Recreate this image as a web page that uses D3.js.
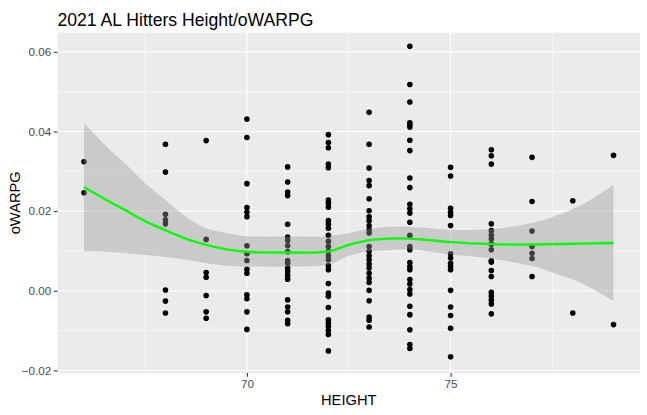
<!DOCTYPE html>
<html>
<head>
<meta charset="utf-8">
<script src="https://cdn.jsdelivr.net/npm/d3@7"></script>
<style>
  body { margin: 0; background: #fff; }
  svg text { font-family: "Liberation Sans", Arial, sans-serif; }
</style>
</head>
<body>
<svg id="chart" width="647" height="415"></svg>
<script>
// player heights (inches) and the oWARPG values of the hitters at each height
const heights = [66, 68, 69, 70, 71, 72, 73, 74, 75, 76, 77, 78, 79]
const owarpg = [
  [0.0324, 0.0246],
  [0.0368, 0.0298, 0.0192, 0.0178, 0.0168, 0.0002, -0.0026, -0.0056],
  [0.0377, 0.0129, 0.0046, 0.0034, -0.0012, -0.0053, -0.0069],
  [0.0431, 0.0385, 0.0269, 0.0209, 0.0197, 0.0186, 0.0113, 0.0093, 0.0076, 0.0054, 0.0044,
   -0.001, -0.002, -0.0053, -0.0097],
  [0.0311, 0.0273, 0.0248, 0.0239, 0.0167, 0.0135, 0.0126, 0.0113, 0.0098, 0.0076, 0.0069,
   0.0057, 0.0048, 0.0038, 0.0029, -0.0023, -0.0041, -0.0053, -0.0074, -0.0083],
  [0.0392, 0.0372, 0.0359, 0.0318, 0.0309, 0.0228, 0.022, 0.021, 0.0176, 0.0167, 0.0157,
   0.0139, 0.0124, 0.0111, 0.0099, 0.0088, 0.0078, 0.0063, 0.0053, 0.0018, -0.0006,
   -0.0014, -0.0042, -0.0073, -0.0081, -0.009, -0.01, -0.011, -0.0151],
  [0.0448, 0.0368, 0.0308, 0.0277, 0.0264, 0.0231, 0.0201, 0.0186, 0.0176, 0.0163, 0.0153,
   0.0145, 0.0111, 0.0099, 0.0088, 0.0078, 0.0067, 0.0057, 0.0044, 0.0032, 0.0021, 0.0001,
   -0.0025, -0.0066, -0.0074, -0.0091],
  [0.0614, 0.0518, 0.0474, 0.0422, 0.0416, 0.0411, 0.0378, 0.0352, 0.0283, 0.0259, 0.0217,
   0.0206, 0.0195, 0.0172, 0.0139, 0.0111, 0.0103, 0.0071, 0.0061, 0.0053, 0.0028, 0.0017,
   0.0003, -0.0008, -0.0039, -0.006, -0.0098, -0.0135, -0.0145],
  [0.031, 0.0288, 0.0207, 0.0197, 0.0189, 0.0164, 0.0093, 0.0082, 0.0069, 0.0061, 0.0053,
   0.0001, -0.0041, -0.0062, -0.0094, -0.0166],
  [0.0354, 0.0339, 0.0318, 0.0168, 0.0151, 0.014, 0.013, 0.0117, 0.0103, 0.0075, 0.0072,
   0.0051, 0.0036, -0.0004, -0.0013, -0.0023, -0.0033, -0.0058],
  [0.0335, 0.0224, 0.015, 0.0111, 0.0094, 0.0081, 0.0036],
  [0.0226, -0.0056],
  [0.034, -0.0085]
]

// loess fit and its confidence band
const fitHeight = [66, 66.5, 67, 67.5, 68, 68.5, 69, 69.5, 70, 71, 72, 72.5, 73, 73.5, 74, 74.5, 75, 76, 77, 77.5, 78, 78.5, 79]
const fitMid  = [0.026, 0.0231, 0.0203, 0.0175, 0.0152, 0.0131, 0.0115, 0.0104, 0.0098, 0.0096, 0.0099, 0.0115, 0.0127, 0.0131, 0.0131, 0.0127, 0.0122, 0.0117, 0.0116, 0.0117, 0.0118, 0.0119, 0.012]
const fitLow  = [0.0099, 0.0098, 0.0095, 0.009, 0.0085, 0.0078, 0.0069, 0.0063, 0.0061, 0.0061, 0.0066, 0.0088, 0.0099, 0.0102, 0.0104, 0.0098, 0.0091, 0.0081, 0.0062, 0.0046, 0.0028, 0.0004, -0.0026]
const fitHigh = [0.0422, 0.0368, 0.032, 0.027, 0.0228, 0.0186, 0.0157, 0.0145, 0.0137, 0.0136, 0.0137, 0.0145, 0.0156, 0.0161, 0.0161, 0.0157, 0.0153, 0.0155, 0.017, 0.0185, 0.0205, 0.0232, 0.0266]

const xTicks = [70, 75]
const yTicks = [-0.02, 0, 0.02, 0.04, 0.06]

const svg = d3.select("#chart")
const panel = {left: 57.5, right: 640, top: 32.5, bottom: 373}

const x = d3.scaleLinear().domain([65.35, 79.65]).range([panel.left, panel.right])
const y = d3.scaleLinear().domain([-0.02065, 0.06485]).range([panel.bottom, panel.top])

// panel background
svg.append("rect")
  .attr("x", panel.left)
  .attr("y", panel.top)
  .attr("width", panel.right - panel.left)
  .attr("height", panel.bottom - panel.top)
  .attr("fill", "#EBEBEB")

// minor grid
const grid = svg.append("g").attr("stroke", "#fff")
grid.selectAll(".xMinor")
  .data([67.5, 72.5, 77.5])
  .join("line")
  .attr("x1", d => x(d)).attr("x2", d => x(d))
  .attr("y1", panel.top).attr("y2", panel.bottom)
  .attr("stroke-width", 0.53)
grid.selectAll(".yMinor")
  .data([-0.01, 0.01, 0.03, 0.05])
  .join("line")
  .attr("y1", d => y(d)).attr("y2", d => y(d))
  .attr("x1", panel.left).attr("x2", panel.right)
  .attr("stroke-width", 0.53)

// major grid
grid.selectAll(".xMajor")
  .data(xTicks)
  .join("line")
  .attr("x1", d => x(d)).attr("x2", d => x(d))
  .attr("y1", panel.top).attr("y2", panel.bottom)
  .attr("stroke-width", 1.07)
grid.selectAll(".yMajor")
  .data(yTicks)
  .join("line")
  .attr("y1", d => y(d)).attr("y2", d => y(d))
  .attr("x1", panel.left).attr("x2", panel.right)
  .attr("stroke-width", 1.07)

// points
const points = heights.flatMap((h, i) => owarpg[i].map(v => ({h, v})))
svg.append("g")
  .selectAll("circle")
  .data(points)
  .join("circle")
  .attr("cx", d => x(d.h))
  .attr("cy", d => y(d.v))
  .attr("r", 2.8)
  .attr("fill", "#000")

// confidence band and fit line
const band = fitHeight.map((h, i) => ({h, lo: fitLow[i], hi: fitHigh[i], mid: fitMid[i]}))
svg.append("path")
  .datum(band)
  .attr("d", d3.area().curve(d3.curveCatmullRom)
    .x(d => x(d.h)).y0(d => y(d.lo)).y1(d => y(d.hi)))
  .attr("fill", "#999999")
  .attr("fill-opacity", 0.4)
svg.append("path")
  .datum(band)
  .attr("d", d3.line().curve(d3.curveCatmullRom)
    .x(d => x(d.h)).y(d => y(d.mid)))
  .attr("fill", "none")
  .attr("stroke", "#00FF00")
  .attr("stroke-width", 2.4)

// axes
svg.append("g")
  .attr("transform", `translate(0,${panel.bottom})`)
  .call(d3.axisBottom(x).tickValues(xTicks).tickSize(3.7).tickPadding(2.5).tickFormat(d3.format("d")))
svg.append("g")
  .attr("transform", `translate(${panel.left},0)`)
  .call(d3.axisLeft(y).tickValues(yTicks).tickSize(3.7).tickPadding(2.5).tickFormat(d3.format(".2f")))
svg.selectAll(".domain").remove()
svg.selectAll(".tick line").attr("stroke", "#333333").attr("stroke-width", 1.07)
svg.selectAll(".tick text")
  .attr("fill", "#4D4D4D")
  .style("font-size", "11.7px")
  .style("font-family", "'Liberation Sans', Arial, sans-serif")

// titles
svg.append("text")
  .text("2021 AL Hitters Height/oWARPG")
  .attr("x", panel.left)
  .attr("y", 26)
  .style("font-size", "17.6px")
  .attr("fill", "#000")
svg.append("text")
  .text("HEIGHT")
  .attr("x", (panel.left + panel.right) / 2)
  .attr("y", 405)
  .attr("text-anchor", "middle")
  .style("font-size", "14.7px")
svg.append("text")
  .text("oWARPG")
  .attr("transform", `translate(20,${(panel.top + panel.bottom) / 2}) rotate(-90)`)
  .attr("text-anchor", "middle")
  .style("font-size", "14.7px")
</script>
</body>
</html>
